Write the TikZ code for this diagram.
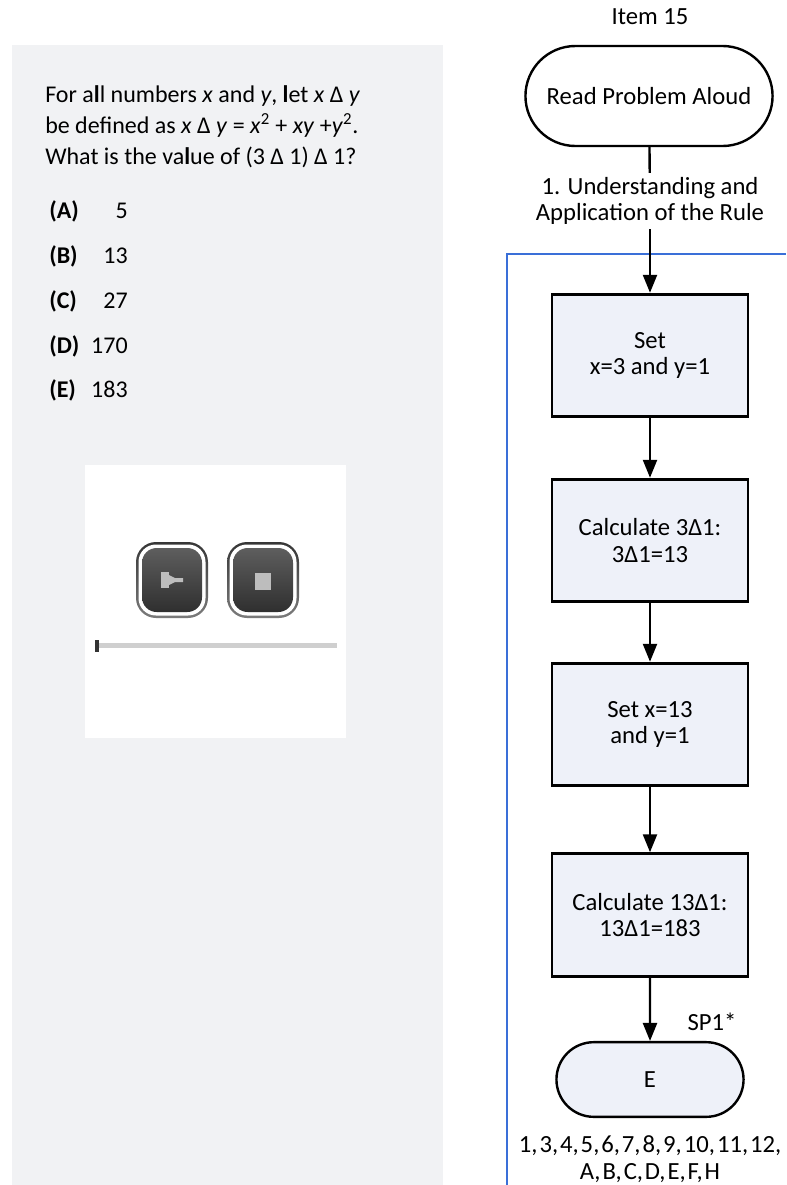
\documentclass[tikz,border=0pt]{standalone}
\usepackage{fontspec}
\setmainfont{Carlito}
\newfontfamily\tightfont[WordSpace=0.35]{Carlito}
\usetikzlibrary{arrows.meta,shapes.misc}
\definecolor{panelgray}{HTML}{F1F2F4}
\definecolor{boxfill}{HTML}{EEF1F9}
\definecolor{frameblue}{HTML}{3A6FD8}
\definecolor{btntop}{HTML}{5E5E5E}
\definecolor{btnbot}{HTML}{2F2F2F}
\definecolor{btnedge}{HTML}{5A5A5A}
\definecolor{icongray}{HTML}{BDBDBD}
\definecolor{slidergray}{HTML}{CFCFCF}

\begin{document}
\begin{tikzpicture}[x=0.75pt,y=-0.75pt]
  \tikzset{qtext/.style = {inner sep=0pt,font=\fontsize{18}{23}\selectfont}}
  \tikzset{flow/.style = {align=center,font=\fontsize{18.5}{20}\selectfont}}
  \tikzset{block/.style = {flow,shape=rectangle,draw,fill=boxfill,line width=2.1pt,minimum width=147pt,minimum height=92pt}}
  \tikzset{terminal/.style = {flow,shape=rounded rectangle,draw,line width=1.8pt}}
  \tikzset{edge/.style = {-{Triangle[width=10.5pt,length=13.5pt]},line width=1.8pt}}
  \useasboundingbox (0,0) rectangle (786,1185);

  % question panel
  \fill[panelgray] (12,45) rectangle (443,1185);
  \node[qtext,anchor=base west] (q1) at (45,102) {For a\textbf{l}l numbers \textit{x} and \textit{y}, \textbf{l}et \textit{x} Δ \textit{y}};
  \node[qtext,anchor=base west] (q2) at (45,133) {be defined as \textit{x} Δ \textit{y} = \textit{x}\textsuperscript{2} + \textit{xy} +\textit{y}\textsuperscript{2}.};
  \node[qtext,anchor=base west] (q3) at (45,164) {What is the va\textbf{l}ue of (3 Δ 1) Δ 1?};
  \foreach \l/\v/\y in {A/5/218,B/13/263,C/27/308,D/170/353,E/183/397}{
    \node[qtext,anchor=base west,font=\fontsize{18}{23}\selectfont\bfseries] (l\l) at (49,\y) {(\l)};
    \node[qtext,anchor=base east] (v\l) at (128,\y) {\v};
  }

  % audio player
  \fill[white] (85,465) rectangle (346,738);
  \foreach \x in {136,227}{
    \shade[top color=btnedge!60!black,bottom color=btnedge!80,rounded corners=15pt] (\x,542) rectangle (\x+72,618);
    \fill[white,rounded corners=13pt] (\x+2.5,544.5) rectangle (\x+69.5,615.5);
    \shade[top color=btntop,bottom color=btnbot,rounded corners=11pt] (\x+6,548) rectangle (\x+66,612);
  }
  \fill[icongray] (161,572) rectangle (169,588);
  \fill[icongray] (169,575) -- (175,578) -- (183,578) -- (183,582) -- (175,582) -- (169,585) -- cycle;
  \fill[icongray] (255,573) rectangle (271,590);
  \fill[slidergray] (95,643) rectangle (337,648);
  \fill[black!80] (95,640) rectangle (99,652);

  % flow chart
  \draw[frameblue,line width=2pt] (507,1185) -- (507,254) -- (786,254);
  \node[flow] (item) at (650,17) {Item 15};
  \node[terminal,minimum width=192pt,minimum height=75pt] (start) at (649,96) {Read Problem Aloud};
  \node[flow,inner sep=3pt] (rule) at (650,201) {1. Understanding and\\Application of the Rule};
  \node[block] (1) at (650,355.5) {Set\\x=3 and y=1};
  \node[block] (2) at (650,540.5) {Calculate 3Δ1:\\3Δ1=13};
  \node[block] (3) at (650,724.5) {Set x=13\\and y=1};
  \node[block] (4) at (650,915) {Calculate 13Δ1:\\13Δ1=183};
  \node[terminal,fill=boxfill,minimum width=147pt,minimum height=56pt] (E) at (650,1079.5) {E};
  \node[flow,font=\fontsize{18.5}{20}\tightfont] (codes) at (650,1159) {1, 3, 4, 5, 6, 7, 8, 9, 10, 11, 12,\\A, B, C, D, E, F, H};

  \draw[line width=1.8pt] (start) -- (rule);
  \foreach \from/\to in {rule/1,1/2,2/3,3/4}
    \draw[edge] (\from) -- (\to);
  \draw[edge] (4) -- node[flow,pos=.7,right=24pt] {SP1*} (E);

\end{tikzpicture}
\end{document}
